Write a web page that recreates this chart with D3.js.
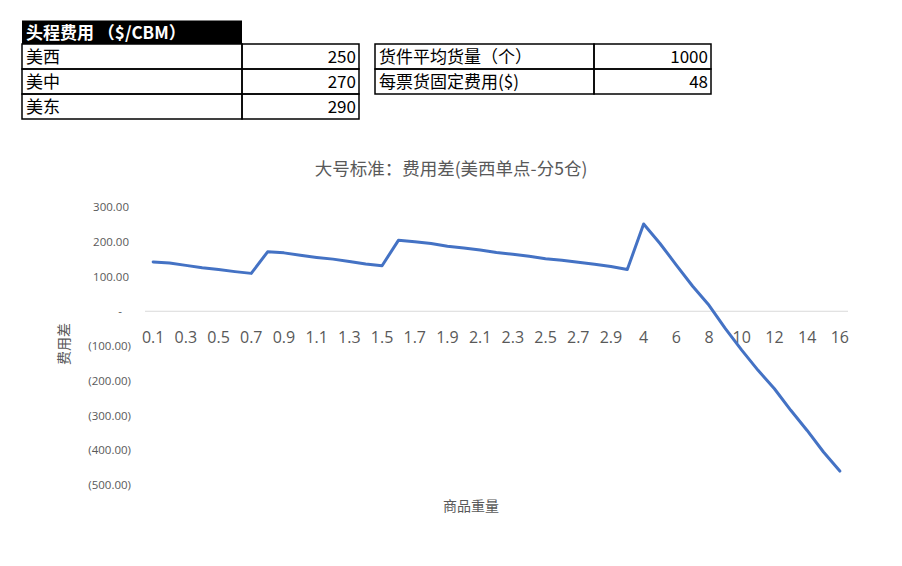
<!DOCTYPE html>
<html>
<head>
<meta charset="utf-8">
<script src="https://cdn.jsdelivr.net/npm/d3@7"></script>
<style>
  body { margin: 0; background: #fff; }
  text { font-family: "Noto Sans CJK SC", "Noto Sans", sans-serif; }
</style>
</head>
<body>
<div id="chart"></div>
<script>
// table data
const headerTitle = "头程费用 （$/CBM）";
const regionNames = ["美西", "美中", "美东"];
const headFreight = [250, 270, 290];
const paramNames = ["货件平均货量（个）", "每票货固定费用($)"];
const paramValues = [1000, 48];

// chart data
const weights = ["0.1", "0.2", "0.3", "0.4", "0.5", "0.6", "0.7", "0.8", "0.9", "1",
    "1.1", "1.2", "1.3", "1.4", "1.5", "1.6", "1.7", "1.8", "1.9", "2",
    "2.1", "2.2", "2.3", "2.4", "2.5", "2.6", "2.7", "2.8", "2.9", "3",
    "4", "5", "6", "7", "8", "9", "10", "11", "12", "13", "14", "15", "16"];
const costDiff = [142, 139, 132, 125, 120, 114, 109, 171, 168, 161,
    155, 150, 143, 136, 131, 204, 200, 195, 187, 182,
    176, 169, 164, 158, 151, 147, 141, 135, 129, 120,
    251, 195, 133, 72, 17, -50, -112, -170, -223, -285, -343, -405, -460];
const yTicks = [300, 200, 100, 0, -100, -200, -300, -400, -500];

const chartTitle = "大号标准：费用差(美西单点-分5仓)";
const xTitle = "商品重量";
const yTitle = "费用差";

const W = 902, H = 566;
const grey = "#595959";

const svg = d3.select("#chart")
    .append("svg")
    .attr("width", W)
    .attr("height", H);

// ---- tables ----
const rowH = 25;
const t1 = { x: 22, y: 44, col: 242, right: 359 };
const t2 = { x: 375, y: 44, col: 594, right: 711 };

svg.append("rect")
    .attr("x", t1.x).attr("y", t1.y - 23.5)
    .attr("width", t1.col - t1.x).attr("height", 23.5)
    .attr("fill", "#000");
svg.append("text")
    .attr("x", t1.x + 4).attr("y", t1.y - 5)
    .attr("fill", "#fff")
    .style("font-size", "17px")
    .style("font-weight", "bold")
    .text(headerTitle);

function drawTable(t, names, values) {
    const rows = svg.append("g").selectAll("g")
        .data(names.map((n, i) => ({ name: n, value: values[i] })))
        .enter().append("g")
        .attr("transform", (d, i) => `translate(0,${t.y + i * rowH})`);
    rows.append("rect")
        .attr("x", t.x).attr("width", t.col - t.x).attr("height", rowH)
        .attr("fill", "none").attr("stroke", "#000").attr("stroke-width", 1.5);
    rows.append("rect")
        .attr("x", t.col).attr("width", t.right - t.col).attr("height", rowH)
        .attr("fill", "none").attr("stroke", "#000").attr("stroke-width", 1.5);
    rows.append("text")
        .attr("x", t.x + 4).attr("y", 19)
        .attr("fill", "#000")
        .style("font-size", "17px")
        .text(d => d.name);
    rows.append("text")
        .attr("x", t.right - 3).attr("y", 19)
        .attr("text-anchor", "end")
        .attr("fill", "#000")
        .style("font-size", "17px")
        .text(d => d.value);
}
drawTable(t1, regionNames, headFreight);
drawTable(t2, paramNames, paramValues);

// ---- chart ----
const x = d3.scaleBand()
    .domain(weights)
    .range([145, 848])
    .padding(0);

const y = d3.scaleLinear()
    .domain([-500, 300])
    .range([485, 207]);

svg.append("text")
    .attr("x", 451).attr("y", 175)
    .attr("text-anchor", "middle")
    .attr("fill", grey)
    .style("font-size", "17.5px")
    .text(chartTitle);

// zero line
svg.append("line")
    .attr("x1", 145).attr("x2", 848)
    .attr("y1", y(0)).attr("y2", y(0))
    .attr("stroke", "#d9d9d9").attr("stroke-width", 1);

// y axis, accounting style labels
const fmt = d3.format(",.2f");
const yAxis = svg.append("g")
    .attr("transform", "translate(131,0)")
    .call(d3.axisLeft(y)
        .tickValues(yTicks)
        .tickSize(0)
        .tickPadding(0)
        .tickFormat(d => d === 0 ? "-" : d < 0 ? `(${fmt(-d)})` : fmt(d)));
yAxis.select(".domain").remove();
yAxis.selectAll("text")
    .attr("fill", grey)
    .attr("dx", d => d === 0 ? -9 : d > 0 ? -2 : 0)
    .style("font-family", "'Open Sans', sans-serif")
    .style("font-size", "11.5px");

// x axis, every other label
const xAxis = svg.append("g")
    .attr("transform", `translate(0,${y(0)})`)
    .call(d3.axisBottom(x)
        .tickValues(weights.filter((d, i) => i % 2 === 0))
        .tickSize(0)
        .tickPadding(20));
xAxis.select(".domain").remove();
xAxis.selectAll("text")
    .attr("fill", grey)
    .style("font-family", "'Open Sans', sans-serif")
    .style("font-size", "16px");

// line
const line = d3.line()
    .x((d, i) => x(weights[i]) + x.bandwidth() / 2)
    .y(d => y(d));

svg.append("path")
    .datum(costDiff)
    .attr("d", line)
    .attr("fill", "none")
    .attr("stroke", "#4472C4")
    .attr("stroke-width", 3)
    .attr("stroke-linejoin", "round")
    .attr("stroke-linecap", "round");

// axis titles
svg.append("text")
    .attr("transform", "translate(69,344) rotate(-90)")
    .attr("text-anchor", "middle")
    .attr("fill", grey)
    .style("font-size", "14px")
    .text(yTitle);

svg.append("text")
    .attr("x", 471).attr("y", 511)
    .attr("text-anchor", "middle")
    .attr("fill", grey)
    .style("font-size", "14px")
    .text(xTitle);
</script>
</body>
</html>
